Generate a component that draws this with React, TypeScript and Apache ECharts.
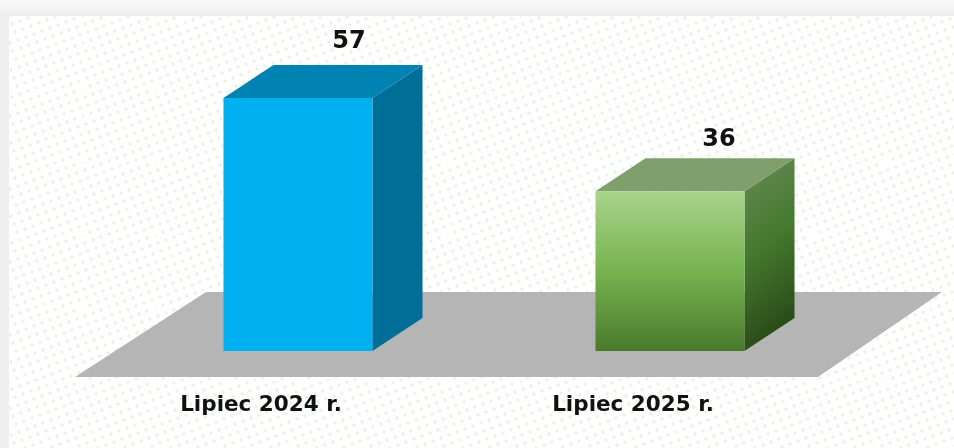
import React, { useEffect, useRef } from "react";
import * as echarts from "echarts";

const categories = ["Lipiec 2024 r.", "Lipiec 2025 r."];
const values = [57, 36];

const FONT = "DejaVu Sans";
const frontHalf = 74.5;
const barShift = 37;
const depthX = 50;
const depthY = 33;
const labelRise = [58, 53];
const labelShift = [51, 49];

const grad = (x2: number, y2: number, stops: [number, string][]) =>
  new echarts.graphic.LinearGradient(0, 0, x2, y2, stops.map(([offset, color]) => ({ offset, color })));

const faces = [
  {
    front: "#00b0f0",
    top: "#0082b2",
    side: "#006e97",
  },
  {
    front: grad(0, 1, [[0, "#a9d38d"], [0.5, "#77b34f"], [1, "#4a7a2c"]]),
    top: "#7f9f6c",
    side: grad(0.2, 1, [[0, "#688a56"], [0.5, "#457a2e"], [1, "#2a4a18"]]),
  },
];

// Background texture: one tile of a slightly rotated dot lattice.
const TILE = 73;
const tileDots: string[] = [];
for (let a = 0; a < TILE; a++) {
  const x = (a * 8) % TILE;
  const y = ((a * -3) % TILE + TILE) % TILE;
  tileDots.push(`%3Ccircle cx='${x}' cy='${y}' r='1.7' fill='%23e9f3e2'/%3E`);
}
const dots =
  `url("data:image/svg+xml,%3Csvg xmlns='http://www.w3.org/2000/svg' width='${TILE}' height='${TILE}'%3E` +
  tileDots.join("") +
  `%3C/svg%3E")`;

export default function App() {
  const ref = useRef<HTMLDivElement>(null);
  useEffect(() => {
    const chart = echarts.init(ref.current!, null, { renderer: "svg" });
    chart.setOption({
      animation: false,
      backgroundColor: "transparent",
      grid: { left: 75, top: 18, width: 744, height: 333 },
      xAxis: {
        type: "category",
        data: categories,
        axisLine: { show: false },
        axisTick: { show: false },
        axisLabel: {
          margin: 41,
          fontFamily: FONT,
          fontWeight: "bold",
          fontSize: 21.5,
          color: "#111",
        },
      },
      yAxis: { type: "value", min: 0, max: 75, show: false },
      series: [
        {
          type: "custom",
          silent: true,
          z: 1,
          data: [0],
          renderItem: (_p: any, api: any) => {
            const [, y0] = api.coord([0, 0]);
            return {
              type: "polygon",
              shape: {
                points: [
                  [75, y0 + 26],
                  [818, y0 + 26],
                  [942, y0 - 59],
                  [206, y0 - 59],
                ],
              },
              style: { fill: "#b5b5b5" },
            };
          },
        },
        {
          type: "custom",
          z: 2,
          data: values.map((v, i) => [i, v]),
          encode: { x: 0, y: 1 },
          renderItem: (params: any, api: any) => {
            const i = params.dataIndex;
            const [cx, top] = api.coord([api.value(0), api.value(1)]);
            const [, base] = api.coord([api.value(0), 0]);
            const l = cx + barShift - frontHalf;
            const r = cx + barShift + frontHalf;
            const f = faces[i];
            return {
              type: "group",
              children: [
                { type: "polygon", shape: { points: [[r, top], [r + depthX, top - depthY], [r + depthX, base - depthY], [r, base]] }, style: { fill: f.side } },
                { type: "polygon", shape: { points: [[l, top], [l + depthX, top - depthY], [r + depthX, top - depthY], [r, top]] }, style: { fill: f.top } },
                { type: "rect", shape: { x: l, y: top, width: r - l, height: base - top }, style: { fill: f.front } },
                {
                  type: "text",
                  x: cx + barShift + labelShift[i],
                  y: top - labelRise[i],
                  style: {
                    text: String(api.value(1)),
                    fontFamily: FONT,
                    fontWeight: "bold",
                    fontSize: 24,
                    fill: "#111",
                    align: "center",
                    verticalAlign: "middle",
                  },
                },
              ],
            };
          },
        },
      ],
    });
    return () => chart.dispose();
  }, []);
  return (
    <div style={{ position: "absolute", left: 0, top: 0, width: 954, height: 448, overflow: "hidden", background: "#efefef" }}>
      <div style={{ position: "absolute", left: 0, top: 0, width: 954, height: 16, background: "linear-gradient(#f8f8f8,#f6f6f6 40%,#ececec)" }} />
      <div
        style={{
          position: "absolute",
          left: 9,
          top: 16,
          width: 945,
          height: 432,
          backgroundColor: "#fff",
          backgroundImage: dots,
        }}
      />
      <div ref={ref} style={{ position: "absolute", left: 0, top: 0, width: 954, height: 448, filter: "blur(0.6px)" }} />
    </div>
  );
}
